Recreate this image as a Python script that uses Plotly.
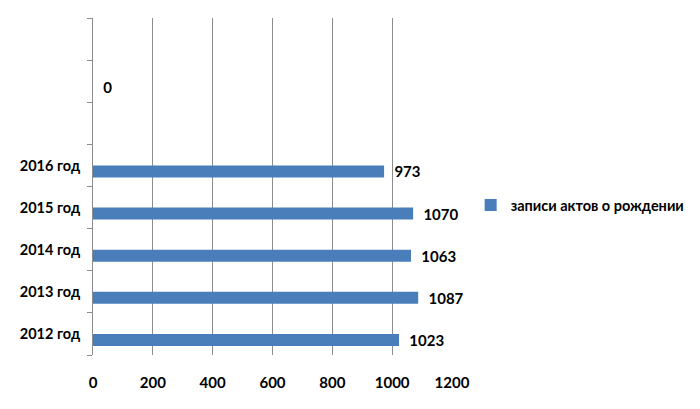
import plotly.graph_objects as go

categories = ["2012 год", "2013 год", "2014 год", "2015 год", "2016 год", "c6", "c7", "c8"]
tick_labels = ["2012 год", "2013 год", "2014 год", "2015 год", "2016 год", "", "", ""]
births = [1023, 1087, 1063, 1070, 973, None, 0, None]
series_name = "записи актов о рождении"
x_ticks = [0, 200, 400, 600, 800, 1000, 1200]

font_family = "Lato, 'Open Sans', sans-serif"

fig = go.Figure()
fig.add_trace(go.Bar(
    y=categories, x=births, orientation="h", name=series_name,
    marker=dict(color="#4A7EBB", line=dict(width=0)),
    texttemplate="  %{x}", textposition="outside", constraintext="none",
    textfont=dict(family=font_family, size=15, color="#000000", weight="bold"),
    cliponaxis=False,
))
fig.add_trace(go.Bar(
    y=categories, x=[None] * len(categories), orientation="h",
    showlegend=False, hoverinfo="skip", marker=dict(color="rgba(0,0,0,0)"),
))

fig.update_layout(
    width=700, height=409,
    margin=dict(l=85, r=256, t=10, b=62),
    paper_bgcolor="white", plot_bgcolor="white",
    barmode="group", bargap=0.43, bargroupgap=0,
    font=dict(family=font_family, size=15, color="#000000"),
    legend=dict(x=1.052, y=0.445, xanchor="left", yanchor="middle",
                itemwidth=30,
                font=dict(family=font_family, size=14.5, weight="bold"),
                bgcolor="rgba(0,0,0,0)"),
    xaxis=dict(range=[0, 1200], tickvals=x_ticks, showgrid=True,
               gridcolor="#8C8C8C", gridwidth=1, zeroline=False,
               showline=False, ticks="", automargin=False,
               ticklabelstandoff=17,
               tickfont=dict(family=font_family, size=15, weight="bold")),
    yaxis=dict(type="category", categoryorder="array", categoryarray=categories,
               tickvals=categories, ticktext=tick_labels,
               showline=True, linecolor="#8C8C8C", linewidth=1,
               ticks="outside", tickson="boundaries", ticklen=5, tickcolor="#8C8C8C",
               showgrid=False, zeroline=False, automargin=False,
               ticklabelstandoff=9,
               tickfont=dict(family=font_family, size=14.5, weight="bold")),
)

fig.write_html("out.html")
